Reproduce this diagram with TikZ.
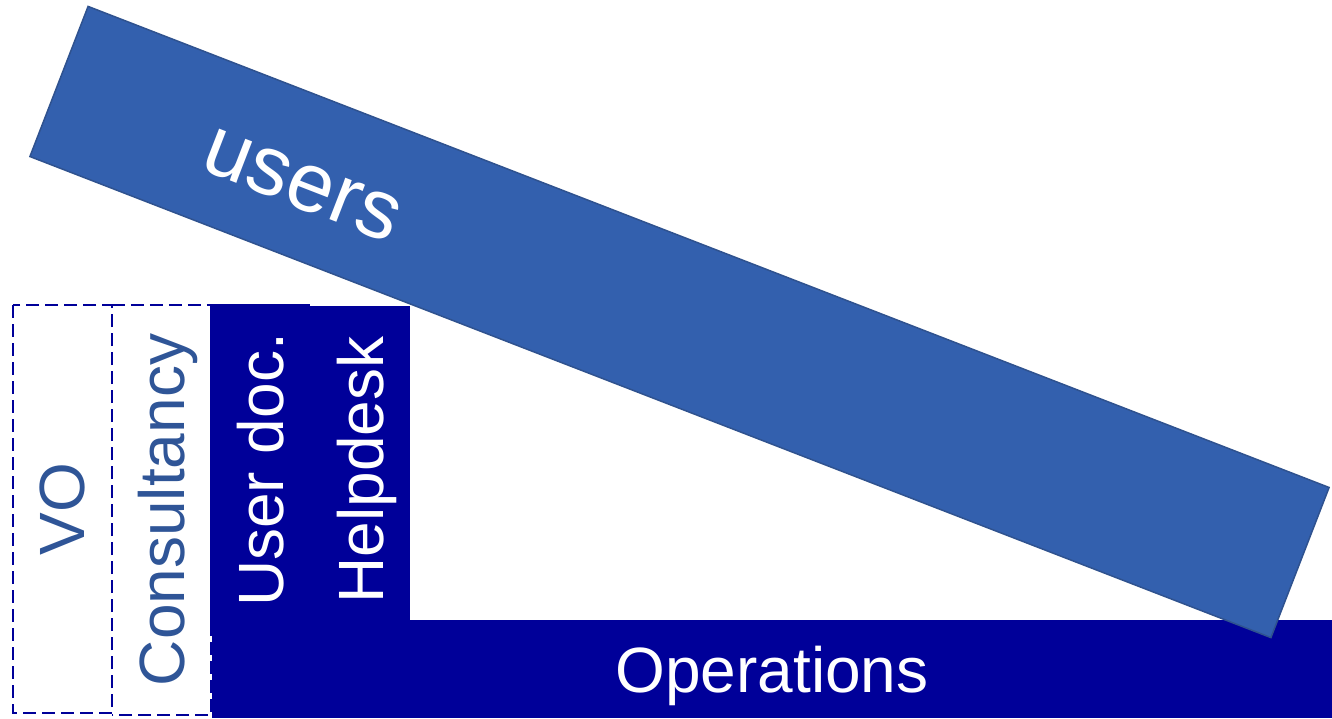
\documentclass[tikz,border=0pt]{standalone}
\usepackage{fontspec}
\setmainfont{Liberation Sans}
\usepackage{tikz}
\usetikzlibrary{positioning}

\definecolor{navy}{RGB}{0,0,153}
\definecolor{bandblue}{RGB}{51,96,174}
\definecolor{bandedge}{RGB}{47,82,143}
\definecolor{textblue}{RGB}{47,85,151}

\begin{document}
\begin{tikzpicture}[
  x=1pt, y=-1pt,
  dashline/.style={draw=navy,line width=2.5pt,dash pattern=on 13pt off 6pt},
  dashbox/.style={text=textblue,inner sep=0pt,rotate=90,text depth=0pt,
    font=\fontsize{64}{64}\selectfont},
  navybox/.style={fill=navy,text=white,inner sep=0pt,text depth=0pt,
    font=\fontsize{64}{64}\selectfont},
  bandbox/.style={fill=bandblue,draw=bandedge,line width=1.5pt,inner sep=0pt}
]
\useasboundingbox (0,0) rectangle (1332,718);

\node[dashbox,dashline,minimum width=408pt,minimum height=99pt] (vo) at (62.5,509) {VO};
\node[dashbox,minimum width=410pt,minimum height=99pt] (cons) at (161.5,510) {Consultancy};
% left side is shared with the VO box
\draw[dashline] (cons.north east) -- (cons.south east) -- (cons.south west) -- (cons.north west);

\node[navybox,rotate=90,minimum width=332pt,minimum height=100pt] (udoc) at (260,470) {User doc.};
\node[navybox,rotate=90,minimum width=328pt,minimum height=100pt] (help) at (360,470) {Helpdesk};
\node[navybox,minimum width=1120pt,minimum height=98pt] (ops) at (772,669) {Operations};

\node[bandbox,rotate=-21.19,minimum width=1331pt,minimum height=161pt] (users) at (679.5,322) {};
\node[text=white,inner sep=0pt,text depth=0pt,rotate=-21.19,
  font=\fontsize{84}{84}\selectfont] (userstext) at (302,185) {users};

\end{tikzpicture}
\end{document}
